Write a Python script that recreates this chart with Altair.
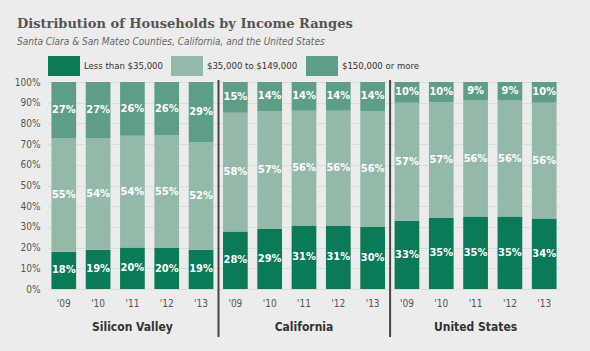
import altair as alt
import pandas as pd

groups = ["Silicon Valley", "California", "United States"]
group_codes = ["SV", "CA", "US"]
years = ["'09", "'10", "'11", "'12", "'13"]
categories = ["Less than $35,000", "$35,000 to $149,000", "$150,000 or more"]
colors = ["#0b7a58", "#94b9a9", "#5f9e86"]

sv_low = [18, 19, 20, 20, 19]
sv_mid = [55, 54, 54, 55, 52]
sv_high = [27, 27, 26, 26, 29]
ca_low = [28, 29, 31, 31, 30]
ca_mid = [58, 57, 56, 56, 56]
ca_high = [15, 14, 14, 14, 14]
us_low = [33, 35, 35, 35, 34]
us_mid = [57, 57, 56, 56, 56]
us_high = [10, 10, 9, 9, 10]

series = {
    "SV": [sv_low, sv_mid, sv_high],
    "CA": [ca_low, ca_mid, ca_high],
    "US": [us_low, us_mid, us_high],
}

rows = []
keys = []
for g, code in zip(groups, group_codes):
    for i, yr in enumerate(years):
        key = f"{code}|{yr}"
        keys.append(key)
        for k, cat in enumerate(categories):
            v = series[code][k][i]
            rows.append({"key": key, "group": g, "year": yr, "category": cat,
                         "order": k, "value": v, "label": f"{v}%"})
df = pd.DataFrame(rows)

dividers = pd.DataFrame({"key": ["CA|'09", "US|'09"]})
group_labels = pd.DataFrame({"key": [f"{c}|'11" for c in group_codes], "group": groups})

W, H = 512, 207
cond = "DejaVu Sans Condensed"

xscale = alt.Scale(domain=keys, paddingInner=0.28, paddingOuter=0.1)
yscale = alt.Scale(domain=[0, 1])

x_axis = alt.Axis(title=None, labelExpr="split(datum.value, '|')[1]",
                  labelAngle=0, ticks=False, domain=False, labelPadding=9,
                  labelFont=cond, labelFontSize=10, labelColor="#555", grid=False)
y_axis = alt.Axis(title=None, format="%", values=[i / 10 for i in range(11)],
                  ticks=False, domain=False, labelPadding=8,
                  labelFont=cond, labelFontSize=10, labelColor="#555",
                  gridColor="#dcdcdc", gridWidth=1)

def xenc(**kw):
    return alt.X("key:N", sort=keys, scale=xscale, axis=x_axis, **kw)

bars = alt.Chart(df).mark_bar().encode(
    x=xenc(),
    y=alt.Y("value:Q", stack="normalize", scale=yscale, axis=y_axis),
    color=alt.Color("category:N", scale=alt.Scale(domain=categories, range=colors),
                    legend=alt.Legend(orient="none", legendX=6, legendY=-26,
                                      direction="horizontal", title=None,
                                      symbolType="M-1.6,-1H1.6V1H-1.6Z", symbolSize=400,
                                      symbolStrokeWidth=0, symbolOpacity=1,
                                      labelFont=cond, labelFontSize=9.5, labelColor="#333",
                                      labelOffset=10, columnPadding=8)),
    order=alt.Order("order:Q"),
)

texts = alt.Chart(df).transform_stack(
    stack="value", groupby=["key"], as_=["v0", "v1"], offset="normalize",
    sort=[alt.SortField("order")]
).transform_calculate(
    mid="(datum.v0 + datum.v1) / 2"
).mark_text(color="white", font=cond, fontWeight="bold", fontSize=11, baseline="middle").encode(
    x=xenc(),
    y=alt.Y("mid:Q", scale=yscale, axis=y_axis),
    text="label:N",
)

rules = alt.Chart(dividers).mark_rule(color="#474747", strokeWidth=2, xOffset=-4.5).encode(
    x=xenc(bandPosition=0),
    y=alt.value(-2),
    y2=alt.value(H + 48),
)

glabels = alt.Chart(group_labels).mark_text(font=cond, fontWeight="bold", fontSize=12,
                                           color="#333", baseline="middle").encode(
    x=xenc(),
    y=alt.value(H + 38),
    text="group:N",
)

chart = alt.layer(bars, texts, rules, glabels).properties(
    width=W, height=H,
    autosize=alt.AutoSizeParams(type="none"),
    padding={"left": 48, "top": 82, "right": 30, "bottom": 62},
    background="#ececec",
    title=alt.Title("Distribution of Households by Income Ranges",
                    subtitle="Santa Clara & San Mateo Counties, California, and the United States",
                    anchor="start", frame="group", dx=-31, offset=9,
                    font="DejaVu Serif", fontSize=13, fontWeight="bold", color="#555",
                    subtitleFont=cond, subtitleFontStyle="italic", subtitleFontSize=10,
                    subtitleColor="#666", subtitlePadding=6),
).configure_view(stroke=None)

chart.save("out.html", embed_options={"renderer": "svg", "actions": False})
